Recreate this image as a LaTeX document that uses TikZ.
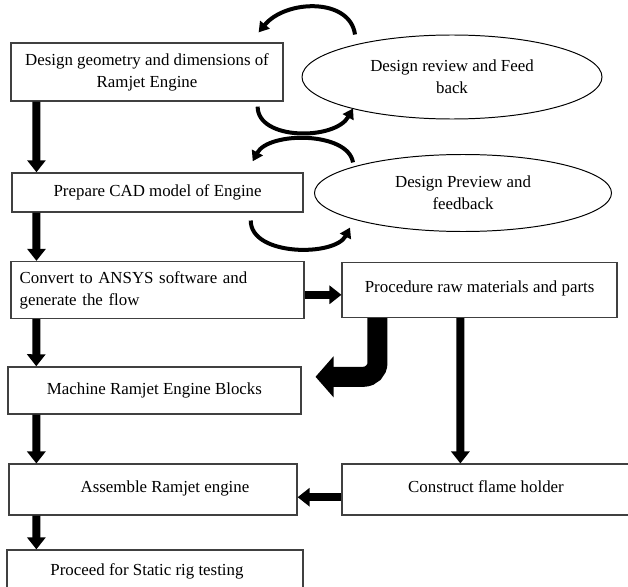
\documentclass[tikz,border=0pt]{standalone}
\usepackage{fontspec}
\setmainfont{Liberation Serif}
\usetikzlibrary{shapes.geometric, arrows.meta}

\begin{document}
\begin{tikzpicture}[
    block/.style={rectangle, draw=black!75, line width=0.9pt, fill=white, inner sep=0pt, align=center, font=\fontsize{12}{15.5}\selectfont},
    review/.style={ellipse, draw, line width=0.7pt, fill=white, inner sep=0pt, align=center, font=\fontsize{12}{15.5}\selectfont},
    arrow/.style={-{Triangle[width=0.45cm, length=0.3cm]}, line width=0.2cm},
    bigarrow/.style={-{Triangle[width=1cm, length=0.45cm]}, line width=0.5cm, rounded corners=0.35cm},
    feedback/.style={-{Triangle[width=0.3cm, length=0.25cm]}, line width=0.1cm}
]
\clip (0,0) rectangle (15.7,14.65);

% Design stage with review loops
\node[block, minimum width=6.8cm, minimum height=1.45cm] (geom) at (3.675,12.85) {Design geometry and dimensions of\\Ramjet Engine};
\node[review, minimum width=7.5cm, minimum height=2.1cm] (review1) at (11.3,12.725) {Design review and Feed\\back};

\node[block, minimum width=7.275cm, minimum height=0.975cm] (cad) at (3.94,9.84) {Prepare CAD model of Engine};
\node[review, minimum width=7.425cm, minimum height=1.925cm] (review2) at (11.575,9.825) {Design Preview and\\feedback};

% Analysis and manufacturing
\node[block, minimum width=7.325cm, minimum height=1.425cm, text width=6.9cm, align=left] (ansys) at (3.94,7.4) {Convert to ANSYS software and\\generate the flow};
\node[block, minimum width=6.875cm, minimum height=1.375cm] (parts) at (11.99,7.4) {\raisebox{1.6mm}{Procedure raw materials and parts}};

\node[block, minimum width=7.325cm, minimum height=1.175cm] (machine) at (3.86,4.89) {\raisebox{1.1mm}{Machine Ramjet Engine Blocks}};

\node[block, minimum width=7.2cm, minimum height=1.275cm] (assemble) at (3.825,2.41) {\raisebox{1.4mm}{\hspace*{0.6cm}Assemble Ramjet engine}};
\node[block, minimum width=7.2cm, minimum height=1.275cm] (flame) at (12.15,2.41) {\raisebox{1.4mm}{Construct flame holder}};

\node[block, minimum width=7.4cm, minimum height=1.2cm] (rig) at (3.875,0.3) {\raisebox{2mm}{Proceed for Static rig testing\hspace*{0.4cm}}};

% Main flow
\draw[arrow] ([xshift=0.65cm]geom.south west) -- ([xshift=0.625cm]cad.north west);
\draw[arrow] ([xshift=0.625cm]cad.south west) -- ([xshift=0.65cm]ansys.north west);
\draw[arrow] ([xshift=0.65cm]ansys.south west) -- ([xshift=0.725cm]machine.north west);
\draw[arrow] ([xshift=0.725cm]machine.south west) -- ([xshift=0.7cm]assemble.north west);
\draw[arrow] ([xshift=0.7cm]assemble.south west) -- ([xshift=0.75cm]rig.north west);

\draw[arrow] ([yshift=-0.12cm]ansys.east) -- ([yshift=-0.12cm]parts.west);
\draw[arrow] ([xshift=2.975cm]parts.south west) -- ([xshift=2.975cm]flame.north west);
\draw[arrow] ([yshift=-0.19cm]flame.west) -- ([yshift=-0.19cm]assemble.east);
\draw[bigarrow] ([xshift=0.9cm]parts.south west) |- ([xshift=0.35cm, yshift=0.34cm]machine.east);

% Review loops
\draw[feedback] ([xshift=-2.425cm]review1.north) .. controls +(-0.125,0.925) and +(0.675,0.825) .. ([xshift=-0.625cm, yshift=0.25cm]geom.north east);
\draw[feedback] ([xshift=-0.65cm, yshift=-0.125cm]geom.south east) .. controls +(0,-0.85) and +(-0.45,-0.8) .. ([xshift=-2.475cm, yshift=0.275cm]review1.south);
\draw[feedback] ([xshift=-2.75cm, yshift=-0.21cm]review2.north) .. controls +(-0.125,0.775) and +(0.4,0.75) .. ([xshift=-1.275cm, yshift=0.275cm]cad.north east);
\draw[feedback] ([xshift=-1.325cm, yshift=-0.2cm]cad.south east) .. controls +(0,-0.9) and +(-0.375,-0.725) .. ([xshift=-2.825cm, yshift=0.11cm]review2.south);

\end{tikzpicture}
\end{document}
